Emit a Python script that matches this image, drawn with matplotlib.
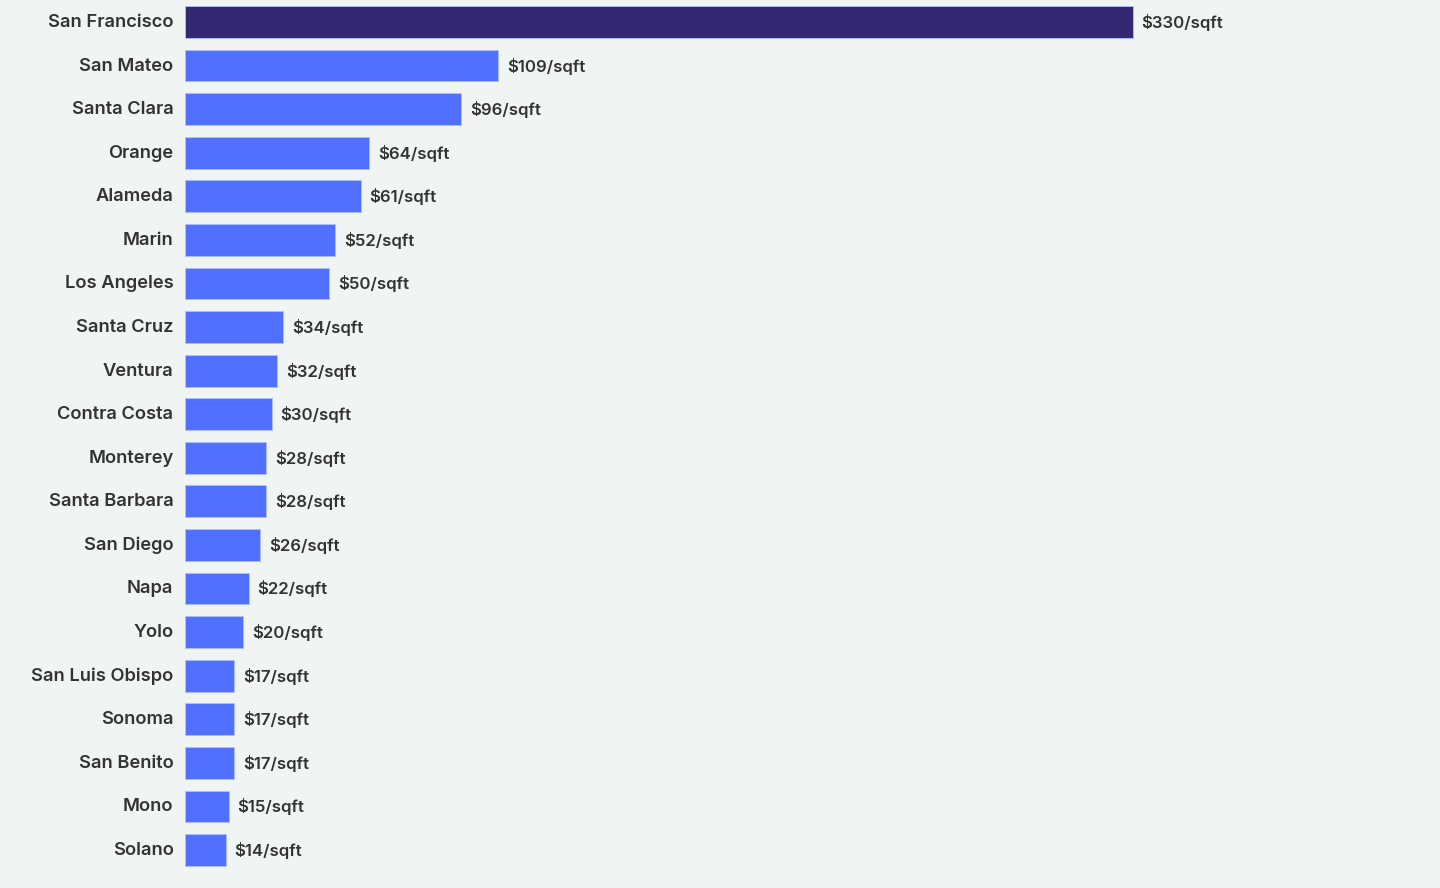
import matplotlib.pyplot as plt
import numpy as np

plt.rcParams['font.family'] = ['Inter', 'DejaVu Sans']

counties = ['San Francisco', 'San Mateo', 'Santa Clara', 'Orange', 'Alameda',
            'Marin', 'Los Angeles', 'Santa Cruz', 'Ventura', 'Contra Costa',
            'Monterey', 'Santa Barbara', 'San Diego', 'Napa', 'Yolo',
            'San Luis Obispo', 'Sonoma', 'San Benito', 'Mono', 'Solano']
price = [330, 109, 96, 64, 61, 52, 50, 34, 32, 30,
         28, 28, 26, 22, 20, 17, 17, 17, 15, 14]

bg = '#F0F5F3'
blue = '#5170FF'
navy = '#342873'
text_col = '#333333'

fig = plt.figure(figsize=(14.4, 8.88), dpi=100, facecolor=bg)
ax = fig.add_axes([185.5 / 1440, 0, 1 - 185.5 / 1440, 1])
ax.set_facecolor(bg)

y = np.arange(len(counties))
colors = [navy] + [blue] * (len(counties) - 1)
ax.barh(y, price, height=0.73, color=colors, edgecolor='#AFC0FF', linewidth=0.6)

for yi, name, v in zip(y, counties, price):
    ax.text(-12 * 330 / 947, yi + 0.01, name, ha='right', va='center', fontsize=13.2,
            fontweight='semibold', color=text_col)
    ax.text(v + 9 * 330 / 947, yi + 0.01, f'${v}/sqft', ha='left', va='center', fontsize=12.1,
            fontweight='semibold', color=text_col)

ax.set_xlim(0, 1254.5 * 330 / 947)
ax.set_ylim((888 - 22) / 43.58, -22 / 43.58)
ax.axis('off')

fig.savefig('out.png', dpi=100, facecolor=bg)
